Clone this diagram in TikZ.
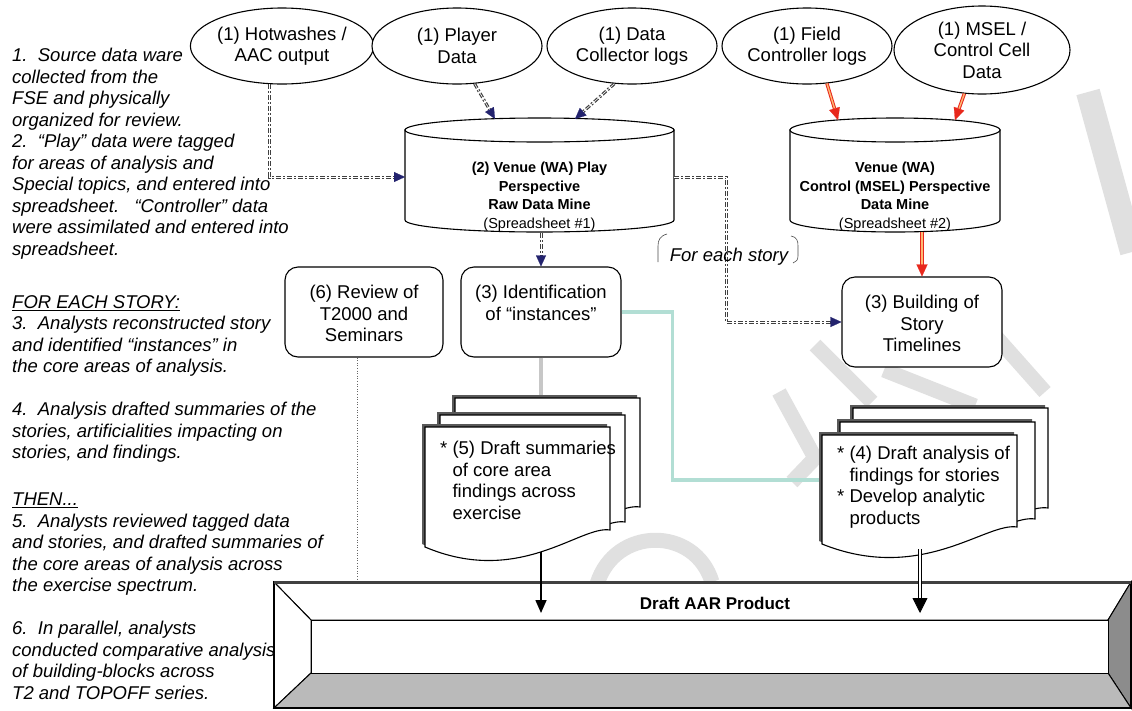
\documentclass[tikz,border=0pt]{standalone}
\usepackage{fontspec}
\setmainfont{Liberation Sans}
\usetikzlibrary{shapes.geometric,arrows.meta,calc}
\definecolor{navy}{RGB}{35,35,110}
\definecolor{tealline}{RGB}{178,222,212}
\definecolor{redline}{RGB}{232,40,28}

% a page of a document stack: x0, x1, top, bottom of the wave
\newcommand{\docpage}[4]{%
  \fill[black!65, shift={(-3,-3)}] (#1,#3) -- (#2,#3) -- (#2,{#4-20})
     .. controls ({#2-0.16*(#2-#1)},{#4-25}) and ({#1+0.51*(#2-#1)},{#4+37}) .. (#1,{#4-3}) -- cycle;
  \filldraw[fill=white, line width=1.1pt] (#1,#3) -- (#2,#3) -- (#2,{#4-20})
     .. controls ({#2-0.16*(#2-#1)},{#4-25}) and ({#1+0.51*(#2-#1)},{#4+37}) .. (#1,{#4-3}) -- cycle;
}
% a data-store drum: x0, x1, centre of top rim, centre of bottom rim, rim radius
\newcommand{\drumshape}[5]{%
  \filldraw[fill=white, line width=1.1pt] (#1,#3) -- (#1,#4)
     arc[start angle=180, end angle=0, x radius={(#2-#1)/2}, y radius=#5] -- (#2,#3) -- cycle;
  \filldraw[fill=white, line width=1.1pt] ({(#1+#2)/2},#3) ellipse[x radius={(#2-#1)/2}, y radius=#5];
}

\begin{document}
\begin{tikzpicture}[x=1pt,y=-1pt,
  every node/.style={inner sep=0pt},
  txt/.style={font=\fontsize{18.5}{21.5}\selectfont, align=center},
  side/.style={font=\fontsize{18.5}{21.5}\selectfont\itshape, align=left, anchor=north west},
  src/.style={ellipse, draw, line width=1.1pt, fill=white, minimum width=170pt, minimum height=76pt,
              font=\fontsize{18.5}{21.5}\selectfont, align=center},
  rbox/.style={draw, rounded corners=13pt, line width=1.1pt, fill=white,
               minimum width=160pt, minimum height=90pt},
  drumtxt/.style={font=\fontsize{14.5}{18.5}\selectfont, align=center, anchor=north},
  dd/.style={draw=black!75, line width=3pt, dash pattern=on 5pt off 2pt on 2pt off 2pt,
             postaction={draw=white, line width=0.6pt, solid, -, shorten >=11pt}},
  navytip/.style={-{Triangle[length=11pt, width=10pt, line width=0.2pt, color=navy]}},
  rr/.style={draw=redline, line width=1pt, double=orange!55, double distance=1.4pt,
             -{Triangle[length=12pt, width=11pt, line width=0.2pt, color=redline]}},
  tl/.style={draw=tealline, line width=3.5pt},
  gl/.style={draw=black!22, line width=3.5pt},
  blk/.style={line width=1.6pt, -{Triangle[length=13pt, width=11pt]}},
  dbl/.style={draw=black, line width=0.8pt, double=white, double distance=2.2pt,
              -{Triangle[length=15pt, width=15pt]}},
  dotline/.style={draw=black!60, line width=0.9pt, dash pattern=on 1pt off 1.6pt},
  wmark/.style={draw=black!12, line width=15pt, line join=round},
]
\useasboundingbox (0,0) rectangle (1132,710);
\fill[white] (0,0) rectangle (1132,710);

% ---- faint background lettering behind the chart
\draw[wmark] (597,584) .. controls (615,526) and (695,526) .. (712,582);
\draw[wmark] (779,392) -- (815,458) -- (792,482);
\draw[wmark] (815,345) -- (872,402);
\draw[wmark] (884,370) -- (975,406);
\draw[wmark] (990,330) -- (1045,392);
\draw[wmark, line width=24pt] (1088,92) -- (1132,252);

% ---- explanatory notes down the left side
\node[side] (t1) at (12,48) {1.\ \ Source data ware\\collected from the\\FSE and physically\\organized for review.\\2.\ \ “Play” data were tagged\\for areas of analysis and\\Special topics, and entered into\\spreadsheet.\ \ \ “Controller” data\\were assimilated and entered into\\spreadsheet.};
\node[side] (t2) at (12,295) {\underline{FOR EACH STORY:}\\3.\ \ Analysts reconstructed story\\and identified “instances” in\\the core areas of analysis.};
\node[side] (t3) at (12,402) {4.\ \ Analysis drafted summaries of the\\stories, artificialities impacting on\\stories, and findings.};
\node[side] (t4) at (12,493) {\underline{THEN...}\\5.\ \ Analysts reviewed tagged data\\and stories, and drafted summaries of\\the core areas of analysis across\\the exercise spectrum.};
\node[side] (t5) at (12,621) {6.\ \ In parallel, analysts\\conducted comparative analysis\\of building-blocks across\\T2 and TOPOFF series.};

% ---- source data
\node[src] (E1) at (282,46) {(1) Hotwashes /\\AAC output};
\node[src] (E2) at (457,46) {(1) Player\\Data};
\node[src] (E3) at (632,46) {(1) Data\\Collector logs};
\node[src] (E4) at (807,46) {(1) Field\\Controller logs};
\node[src, minimum width=176pt, minimum height=88pt] (E5) at (982,50) {(1) MSEL /\\Control Cell\\Data};

% ---- data mines
\node[minimum width=269pt, minimum height=114pt] (cyl1) at (539.5,175) {};
\node[minimum width=210pt, minimum height=114pt] (cyl2) at (895,175) {};
\drumshape{405}{674}{130}{220}{12}
\drumshape{790}{1000}{130}{220}{12}
\node[drumtxt] at (539.5,162) {\textbf{(2) Venue (WA) Play}\\\textbf{Perspective}\\\textbf{Raw Data Mine}\\(Spreadsheet \#1)};
\node[drumtxt] at (895,162) {\textbf{Venue (WA)}\\\textbf{Control (MSEL) Perspective}\\\textbf{Data Mine}\\(Spreadsheet \#2)};

\coordinate (c1in)  at (405,177);
\coordinate (c1out) at (674,177);
\coordinate (c1p)   at (495,119);
\coordinate (c1d)   at (575,119);
\coordinate (c1bot) at (541,233);
\coordinate (c2f)   at (838,120);
\coordinate (c2m)   at (955,120);
\coordinate (c2bot) at (922,232);

% ---- process boxes
\node[rbox, minimum width=158pt] (rev) at (364,312) {};
\node[txt, anchor=north] at (364,285) {(6) Review of\\T2000 and\\Seminars};
\node[rbox] (idn) at (541,312) {};
\node[txt, anchor=north] at (541,285) {(3) Identification\\of “instances”};
\node[rbox] (bld) at (922,322) {};
\node[txt, anchor=north] at (922,295) {(3) Building of\\Story\\Timelines};

% ---- connectors among the upper part
\draw[dd, navytip] (E1.-108) |- (c1in);
\draw[dd, navytip] (E2.-65) -- (c1p);
\draw[dd, navytip] (E3.-115) -- (c1d);
\draw[dd, navytip] (c1out) -- ++(52,0) |- (bld.west);
\draw[dd, navytip] (c1bot) -- (idn.north);
\draw[rr] (E4.-62) -- (c2f);
\draw[rr] (E5.-112) -- (c2m);
\draw[rr] (c2bot) -- (bld.north);

% ---- "for each story" bracket
\node[font=\fontsize{18.5}{21.5}\selectfont\itshape] (fes) at (729,257) {For each story};
\draw[line width=0.6pt, black!70] (667,234) .. controls (660,236) and (658,240) .. (658,246) -- (658,262);
\draw[line width=0.6pt, black!70] (791,236) .. controls (797,237) and (798,241) .. (798,246) -- (798,256)
   .. controls (798,260) and (796,262) .. (793,263);

% ---- document stacks
\coordinate (d5top)  at (541,398);
\coordinate (d5bot)  at (541,552);
\coordinate (d4left) at (822,480);
\coordinate (d4bot)  at (920,549);
\draw[tl] (idn.east) -- ++(51,0) |- (d4left);
\draw[gl] (idn.south) -- (d5top);

\docpage{455}{640}{398}{527}
\docpage{440}{625}{415}{542}
\docpage{425}{610}{427}{550}
\node[txt, align=left, anchor=north west] (doc5) at (440,441) {* (5) Draft summaries\\\hphantom{* }of core area\\\hphantom{* }findings across\\\hphantom{* }exercise};

\docpage{853}{1048}{408}{528}
\docpage{840}{1035}{422}{539}
\docpage{822}{1017}{435}{547}
\node[txt, align=left, anchor=north west] (doc4) at (837,446) {* (4) Draft analysis of\\\hphantom{* }findings for stories\\* Develop analytic\\\hphantom{* }products};

% ---- review dotted lead
\coordinate (aartop) at (357,581);
\draw[dotline] ($(rev.south)+(-7,0)$) -- (aartop);

% ---- final product frame
\coordinate (oTL) at (274,582);
\coordinate (oTR) at (1131,582);
\coordinate (oBR) at (1131,708);
\coordinate (oBL) at (274,708);
\coordinate (iTL) at (311,620);
\coordinate (iTR) at (1108,620);
\coordinate (iBR) at (1108,673);
\coordinate (iBL) at (311,673);
\node[minimum width=857pt, minimum height=126pt] (aar) at (702.5,645) {};
\filldraw[fill=white, line width=1pt] (oTL) -- (oTR) -- (iTR) -- (iTL) -- cycle;
\filldraw[fill=white, line width=1pt] (oTL) -- (iTL) -- (iBL) -- (oBL) -- cycle;
\filldraw[fill=black!45, line width=1pt] (oTR) -- (oBR) -- (iBR) -- (iTR) -- cycle;
\filldraw[fill=black!27, line width=1pt] (iBL) -- (iBR) -- (oBR) -- (oBL) -- cycle;
\filldraw[fill=white, line width=1pt] (iTL) rectangle (iBR);
\draw[line width=1.6pt] (oTL) rectangle (oBR);
\draw[line width=3pt, black!75] (oTL) -- (oTR);
\node[font=\fontsize{17}{20}\selectfont\bfseries] (aartitle) at (715,603) {Draft AAR Product};

\coordinate (a1tip) at (541,613);
\coordinate (a2tip) at (920,613);
\draw[blk] (d5bot) -- (a1tip);
\draw[dbl] (d4bot) -- (a2tip);
\end{tikzpicture}
\end{document}
